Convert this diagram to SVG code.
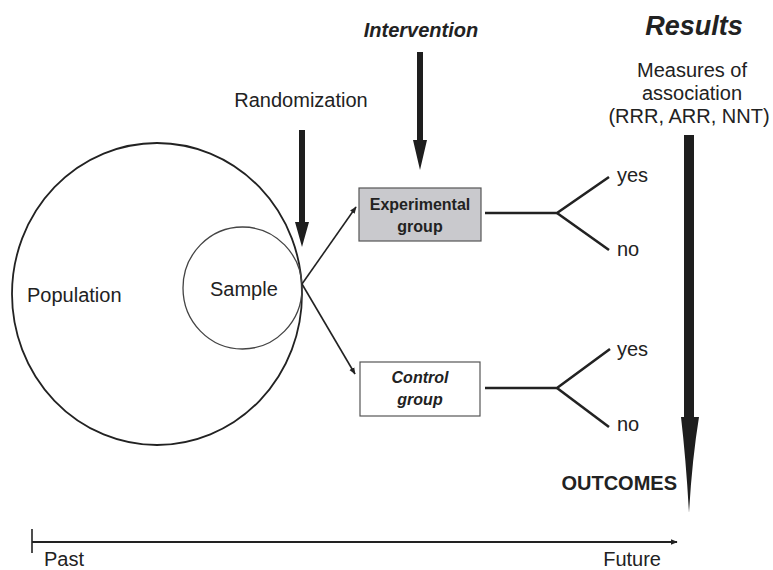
<svg xmlns="http://www.w3.org/2000/svg" width="773" height="570" viewBox="0 0 773 570">
<style>
text{font-family:"Liberation Sans",Arial,sans-serif;fill:#222;font-size:20px}
.b{font-weight:bold}
.bi{font-weight:bold;font-style:italic}
.title{font-size:27px}
.box{font-size:16px;font-weight:bold;text-anchor:middle}
.it{font-style:italic}
.thin{stroke:#222;stroke-width:1.6;fill:none}
.line{stroke:#222;stroke-width:2.6;fill:none}
.big{fill:#1e1e1e}
</style>
<defs>
<marker id="ah" viewBox="0 0 10 10" refX="9" refY="5" markerWidth="7" markerHeight="7" markerUnits="userSpaceOnUse" orient="auto">
<path d="M0,1 L10,5 L0,9 Z" fill="#222"/>
</marker>
</defs>
<rect width="773" height="570" fill="#fff"/>

<g id="population">
<ellipse cx="157" cy="294" rx="145" ry="151" fill="none" stroke="#222" stroke-width="1.8"/>
<text x="27" y="302">Population</text>
</g>
<g id="sample">
<ellipse cx="242.5" cy="288" rx="59.5" ry="61" fill="none" stroke="#444" stroke-width="1.3"/>
<text x="210" y="296">Sample</text>
</g>

<g id="randomization">
<text x="301" y="107" text-anchor="middle">Randomization</text>
<path class="big" d="M299,130 H305 V222 H309 L302,247 L295,222 H299 Z"/>
</g>
<g id="intervention">
<text class="bi" x="421" y="37" text-anchor="middle">Intervention</text>
<path class="big" d="M417,52 H423 V140 H427 L420,170 L413,140 H417 Z"/>
</g>

<g id="experimental">
<rect x="359" y="188" width="122" height="53" fill="#c9c9cd" stroke="#555" stroke-width="1.2"/>
<text class="box" x="420" y="210">Experimental</text>
<text class="box" x="420" y="232">group</text>
</g>
<g id="control">
<rect x="360" y="362" width="120" height="54" fill="#fff" stroke="#555" stroke-width="1.2"/>
<text class="box it" x="420" y="383">Control</text>
<text class="box it" x="420" y="405">group</text>
</g>

<g id="outcome-experimental">
<text x="617" y="182">yes</text>
<text x="617" y="256">no</text>
</g>
<g id="outcome-control">
<text x="617" y="356">yes</text>
<text x="617" y="431">no</text>
</g>

<g id="results">
<text class="bi title" x="694" y="35" text-anchor="middle">Results</text>
<text x="692" y="77" text-anchor="middle">Measures of</text>
<text x="692" y="100" text-anchor="middle">association</text>
<text x="689" y="123" text-anchor="middle">(RRR, ARR, NNT)</text>
<path class="big" d="M684,135 H694 V417 H699 Q692,460 689,513 Q686,460 681,417 H684 Z"/>
<text class="b" x="677" y="490" text-anchor="end">OUTCOMES</text>
</g>

<g id="timeline">
<line x1="32" y1="529" x2="32" y2="553" stroke="#222" stroke-width="1.6"/>
<line x1="32" y1="542" x2="677" y2="542" stroke="#222" stroke-width="1.8" marker-end="url(#ah)"/>
<text x="44" y="566">Past</text>
<text x="661" y="566" text-anchor="end">Future</text>
</g>

<g id="connectors">
<line class="thin" x1="302" y1="284" x2="356" y2="207" marker-end="url(#ah)"/>
<line class="thin" x1="302" y1="284" x2="355" y2="374" marker-end="url(#ah)"/>
<polyline class="line" points="485,213 557,213 609,177"/>
<line class="line" x1="557" y1="213" x2="609" y2="250"/>
<polyline class="line" points="485,388 557,388 610,349"/>
<line class="line" x1="557" y1="388" x2="609" y2="427"/>
</g>
</svg>
